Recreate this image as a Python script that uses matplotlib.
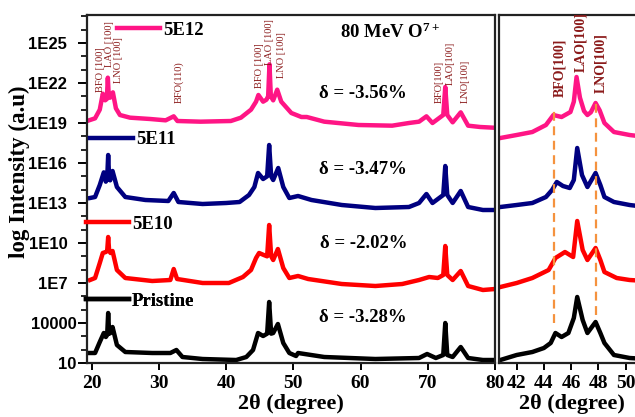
import numpy as np
import matplotlib
matplotlib.use("Agg")
import matplotlib.pyplot as plt
from matplotlib.ticker import FixedLocator, FixedFormatter, LogLocator, NullFormatter

plt.rcParams['mathtext.fontset'] = 'custom'
plt.rcParams['mathtext.rm'] = 'Liberation Serif:bold'
plt.rcParams['mathtext.bf'] = 'Liberation Serif:bold'
plt.rcParams['mathtext.default'] = 'rm'

SERIF = 'Liberation Serif'

# ---------------- data (2theta in degree, log10 intensity) ----------------
pink_x = [19.6, 20.5, 21.2, 21.65, 22.0, 22.25, 22.4, 22.55, 22.75, 23.15, 23.6, 24.2, 25.7, 28.7, 31.0,
          32.2, 32.75, 36.2, 40.7, 42.2, 43.7, 44.45, 44.8, 45.5, 46.0, 46.25, 46.45, 46.65, 47.0, 47.6,
          48.2, 49.7, 51.2, 52.0, 54.6, 59.7, 64.7, 67.2, 68.7, 69.8, 70.7, 72.3, 72.6, 72.9, 73.7,
          74.9, 76.0, 77.8, 79.7]
pink_y = [19.2, 19.35, 20.0, 21.2, 20.7, 20.8, 22.4, 20.9, 20.9, 21.3, 20.1, 19.6, 19.4, 19.3, 19.2,
          19.5, 19.15, 19.1, 19.15, 19.4, 20.0, 20.6, 21.1, 20.6, 20.75, 21.0, 23.4, 21.0, 20.7, 21.5,
          20.6, 19.75, 19.45, 19.45, 19.1, 18.85, 18.8, 19.0, 19.1, 19.5, 19.0, 19.6, 21.7, 19.6, 19.05,
          19.8, 18.8, 18.7, 18.65]

blue_x = [19.75, 20.5, 21.2, 21.8, 22.1, 22.3, 22.45, 22.6, 22.75, 23.1, 23.75, 25.0, 28.0, 31.4, 32.2,
          32.9, 36.5, 40.0, 42.0, 43.4, 44.2, 44.75, 45.5, 46.1, 46.4, 46.7, 47.0, 47.75, 48.5, 49.4,
          50.7, 52.7, 57.2, 62.2, 67.2, 68.7, 69.8, 70.7, 72.3, 72.6, 72.9, 73.7, 74.9, 76.0, 78.2, 80.0]
blue_y = [13.375, 13.45, 14.35, 15.3, 14.6, 14.8, 16.6, 14.8, 14.7, 15.4, 14.2, 13.45, 13.225, 13.15, 13.75,
          13.075, 12.925, 13.0, 13.075, 13.6, 14.2, 15.25, 14.8, 15.0, 17.35, 15.0, 14.725, 15.625, 14.2, 13.375,
          13.525, 13.225, 12.85, 12.625, 12.7, 13.0, 13.675, 13.0, 13.6, 15.775, 13.6, 13.0, 13.9, 12.7, 12.475, 12.475]

red_x = [19.75, 20.5, 21.2, 21.65, 22.1, 22.3, 22.45, 22.6, 22.8, 23.1, 23.75, 25.0, 29.0, 31.7, 32.2,
         32.7, 36.5, 40.4, 42.5, 43.7, 44.45, 44.9, 45.6, 46.1, 46.4, 46.7, 47.0, 47.7, 48.5, 49.4,
         50.7, 52.2, 57.2, 62.2, 66.2, 68.7, 70.2, 71.5, 72.3, 72.6, 72.9, 73.7, 74.9, 76.0, 78.2, 80.0]
red_y = [7.225, 7.375, 8.5, 9.25, 9.325, 9.4, 10.45, 9.4, 9.25, 9.4, 7.975, 7.375, 7.15, 7.225, 8.05,
         7.3, 7.0, 7.0, 7.45, 7.975, 8.875, 9.25, 9.1, 9.0, 11.35, 9.0, 8.725, 9.55, 8.125, 7.375,
         7.525, 7.3, 6.925, 6.775, 6.925, 7.225, 7.45, 7.375, 7.6, 9.775, 7.6, 7.225, 7.9, 6.775, 6.475, 6.55]

black_x = [19.75, 20.5, 21.2, 21.8, 22.1, 22.3, 22.45, 22.6, 22.8, 23.1, 23.75, 25.0, 29.0, 31.7, 32.6,
           33.5, 36.5, 41.5, 43.0, 44.0, 44.75, 45.5, 46.1, 46.4, 46.7, 47.0, 47.7, 48.5, 49.4, 50.4,
           50.7, 54.6, 62.2, 68.7, 69.9, 71.2, 72.3, 72.6, 72.9, 73.7, 74.9, 76.0, 78.2, 80.0]
black_y = [1.75, 1.75, 2.575, 3.25, 2.95, 3.1, 4.75, 3.2, 3.25, 3.7, 2.35, 1.825, 1.75, 1.75, 1.975,
           1.45, 1.3, 1.225, 1.45, 1.975, 3.25, 3.025, 3.2, 5.575, 3.2, 3.25, 3.925, 2.5, 1.75, 1.525,
           1.75, 1.45, 1.3, 1.375, 1.675, 1.375, 1.6, 4.0, 1.6, 1.45, 2.2, 1.375, 1.225, 1.225]

# zoomed panel (41-51 degree)
zpink_x = [40.8, 42.0, 43.15, 44.15, 44.7, 45.3, 45.95, 46.2, 46.4, 46.65, 46.95, 47.2, 47.45, 47.8, 48.1, 48.45, 49.15, 50.3, 51.5]
zpink_y = [17.875, 18.1, 18.325, 18.85, 19.6, 19.45, 19.825, 20.6, 22.45, 20.9, 19.9, 19.6, 19.8, 20.5, 19.95, 19.0, 18.325, 18.1, 17.95]
zblue_x = [40.8, 42.0, 43.15, 44.15, 44.6, 44.95, 45.4, 45.9, 46.2, 46.45, 46.8, 47.2, 47.8, 48.15, 48.45, 49.15, 50.3, 51.5]
zblue_y = [12.7, 12.85, 13.0, 13.45, 13.975, 14.575, 14.275, 14.125, 14.725, 17.125, 15.1, 14.2, 15.25, 14.35, 13.45, 13.075, 12.85, 12.7]
zred_x = [40.8, 42.0, 43.15, 44.35, 44.85, 45.55, 46.15, 46.45, 46.85, 47.2, 47.8, 48.15, 48.45, 49.35, 50.3, 51.5]
zred_y = [6.7, 7.0, 7.375, 7.975, 8.875, 9.325, 8.95, 11.65, 9.475, 8.725, 9.625, 8.725, 7.825, 7.375, 7.225, 7.15]
zblack_x = [40.8, 42.0, 43.15, 44.0, 44.5, 44.85, 45.3, 45.8, 46.2, 46.45, 46.85, 47.2, 47.8, 48.15, 48.45, 49.15, 50.3, 51.5]
zblack_y = [1.225, 1.6, 1.825, 2.125, 2.5, 3.25, 2.95, 3.25, 4.375, 5.95, 4.225, 3.25, 4.075, 3.25, 2.5, 1.6, 1.375, 1.3]

series_names = ['5E12', '5E11', '5E10', 'Pristine']
series_colors = ['#FF1585', '#000080', '#FF0000', '#000000']
deltas = ['δ = -3.56%', 'δ = -3.47%', 'δ = -2.02%', 'δ = -3.28%']
delta_logy = [21.25, 15.475, 10.0, 4.375]

ytick_vals = [1e1, 1e4, 1e7, 1e10, 1e13, 1e16, 1e19, 1e22, 1e25]
ytick_labels = ['10', '10000', '1E7  ', '1E10  ', '1E13  ', '1E16  ', '1E19  ', '1E22  ', '1E25  ']

# peak labels: (text, x, log y of bottom)
peak_labels = [
    ('BFO [100]', 21.35, 21.3), ('LAO [100]', 22.7, 23.2), ('LNO [100]', 24.05, 22.0),
    ('BFO(110)', 33.05, 20.5),
    ('BFO [100]', 44.9, 21.6), ('LAO [100]', 46.4, 23.35), ('LNO [100]', 48.2, 22.4),
    ('BFO[100]', 71.75, 20.5), ('LAO[100]', 73.4, 21.85), ('LNO[100]', 75.5, 20.5),
]
zoom_labels = [('BFO[100]', 45.14, 20.95), ('LAO[100]', 46.7, 22.8), ('LNO[100]', 48.15, 21.25)]
ref_x = [44.75, 47.85]
ref_top = [20.2, 20.575]
ref_bottom = [4.0, 4.6]

LABEL_RED = '#8B1A1A'

# ---------------- figure ----------------
fig = plt.figure(figsize=(6.35, 4.17), dpi=100)
W, H = 635, 417
ax = fig.add_axes([87 / W, (H - 363) / H, 408 / W, 348 / H])
az = fig.add_axes([499 / W, (H - 363) / H, 151 / W, 348 / H])

left_data = [(pink_x, pink_y), (blue_x, blue_y), (red_x, red_y), (black_x, black_y)]
zoom_data = [(zpink_x, zpink_y), (zblue_x, zblue_y), (zred_x, zred_y), (zblack_x, zblack_y)]

handles = []
for (xs, ys), c, name in zip(left_data, series_colors, series_names):
    h, = ax.plot(xs, 10 ** np.array(ys), color=c, lw=3.2, solid_joinstyle='round', label=name)
    handles.append(h)
for (xs, ys), c in zip(zoom_data, series_colors):
    az.plot(xs, 10 ** np.array(ys), color=c, lw=3.2, solid_joinstyle='round')

for a in (ax, az):
    a.set_yscale('log')
    a.set_ylim(10, 10 ** 27.1)
    for s in a.spines.values():
        s.set_linewidth(1.6)
        s.set_color('#222222')

ax.set_xlim(19.3, 80)
az.set_xlim(40.7, 51.8)

ax.yaxis.set_major_locator(FixedLocator(ytick_vals))
ax.yaxis.set_major_formatter(FixedFormatter(ytick_labels))
ax.yaxis.set_minor_locator(LogLocator(base=10, subs=(1.0,), numticks=40))
ax.yaxis.set_minor_formatter(NullFormatter())
ax.tick_params(axis='y', which='major', length=6.5, width=1.4, pad=1, labelsize=12)
ax.tick_params(axis='y', which='minor', length=4, width=1.2)
for t in ax.get_yticklabels():
    t.set_fontfamily('Liberation Sans')
    t.set_fontweight('bold')

ax.set_xticks([20, 30, 40, 50, 60, 70, 80])
ax.tick_params(axis='x', which='major', length=5, width=1.4, pad=4, labelsize=14)
az.set_xticks([42, 44, 46, 48, 50])
az.tick_params(axis='x', which='major', length=5, width=1.4, pad=4, labelsize=14)
az.set_yticks([])
az.yaxis.set_minor_locator(FixedLocator([]))
for a in (ax, az):
    for t in a.get_xticklabels():
        t.set_fontfamily(SERIF)
        t.set_fontweight('bold')

ax.set_xlabel('2θ (degree)', fontsize=16, fontweight='bold', family=SERIF)
ax.xaxis.set_label_coords(0.5, -0.088)
az.set_xlabel('2θ (degree)', fontsize=16, fontweight='bold', family=SERIF)
az.xaxis.set_label_coords(0.48, -0.088)
ax.set_ylabel('log Intensity (a.u)', fontsize=16.5, fontweight='bold', family=SERIF)
ax.yaxis.set_label_coords(-0.14, 0.55)

# series labels
leg_anchor = [(0.0735, 0.957), (0.0074, 0.641), (-0.0025, 0.399), (-0.0025, 0.178)]
for h, anc in zip(handles, leg_anchor):
    lg = ax.legend(handles=[h], loc='center left', bbox_to_anchor=anc, frameon=False,
                   handlelength=2.3, handletextpad=0.15, borderpad=0, borderaxespad=0,
                   prop={'family': SERIF, 'weight': 'bold', 'size': 13.5})
    ax.add_artist(lg)

# delta annotations
for txt, ly in zip(deltas, delta_logy):
    ax.text(60.4, 10 ** ly, txt, ha='center', va='center', fontsize=13.5,
            fontweight='bold', family=SERIF)

ax.text(64.45, 10 ** 25.8, '80 MeV O$^{7+}$', ha='center', va='center', fontsize=13.5,
        fontweight='bold', family=SERIF)

for txt, x, ly in peak_labels:
    ax.text(x, 10 ** ly, txt, rotation=90, ha='center', va='bottom', fontsize=7.5,
            color=LABEL_RED, family=SERIF)
for txt, x, ly in zoom_labels:
    az.text(x, 10 ** ly, txt, rotation=90, ha='center', va='bottom', fontsize=10,
            color=LABEL_RED, family=SERIF, fontweight='bold', clip_on=False)

for x, t, b in zip(ref_x, ref_top, ref_bottom):
    az.vlines(x, 10 ** b, 10 ** t, colors='#F5923E', linestyles=(0, (4, 2.5)), lw=1.6)

fig.savefig('out.png', dpi=100)
